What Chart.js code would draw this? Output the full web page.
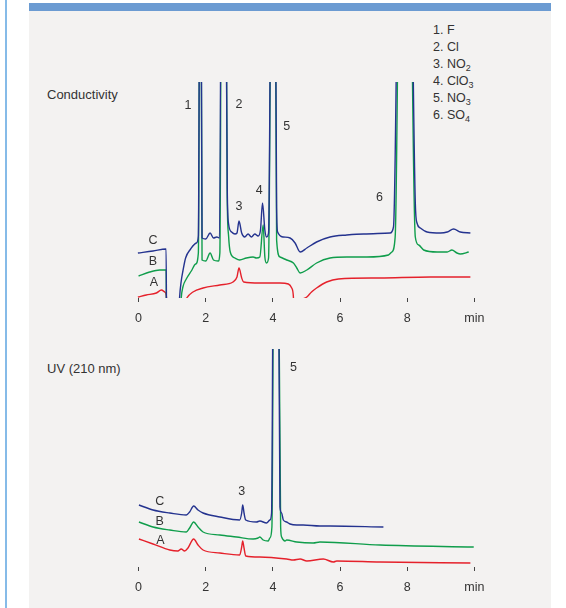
<!DOCTYPE html>
<html>
<head>
<meta charset="utf-8">
<script src="https://cdn.jsdelivr.net/npm/chart.js@4/dist/chart.umd.min.js"></script>
<style>
  html, body { margin: 0; padding: 0; background: #fff; }
  body { width: 566px; height: 608px; position: relative; overflow: hidden;
         font-family: "Liberation Sans", Arial, Helvetica, sans-serif; color: #333; }
  .edge { position: absolute; left: 5px; top: 0; width: 2px; height: 608px; background: #86bbe8; }
  .panel { position: absolute; left: 29px; top: 3px; width: 522px; height: 605px; background: #f3f2f1; }
  .bar { position: absolute; left: 29px; top: 3px; width: 522px; height: 8px; background: #6b9bd2; }
  .title { position: absolute; left: 47px; font-size: 13px; line-height: 16px; white-space: nowrap; }
  .legend { position: absolute; left: 433px; top: 22px; font-size: 12.5px; }
  .legend div { height: 17.1px; line-height: 17px; white-space: nowrap; }
  .legend sub { font-size: 0.72em; line-height: 0; vertical-align: -0.3em; }
  canvas { position: absolute; }
</style>
</head>
<body>
<div class="edge"></div>
<div class="panel"></div>
<div class="bar"></div>
<div class="title" style="top:87px">Conductivity</div>
<div class="title" style="top:361px">UV (210 nm)</div>
<div class="legend">
  <div>1. F</div>
  <div>2. Cl</div>
  <div>3. NO<sub>2</sub></div>
  <div>4. ClO<sub>3</sub></div>
  <div>5. NO<sub>3</sub></div>
  <div>6. SO<sub>4</sub></div>
</div>
<canvas id="cond" width="403" height="246" style="left:105px;top:82px"></canvas>
<canvas id="uv" width="403" height="248" style="left:105px;top:349px"></canvas>
<script>
// retention time (min) and detector signal (arb. units)
// values above the axis top are off-scale peaks, below zero are off-scale dips
const condC = [[-0.02,45],[0.43,47],[0.82,49],[0.84,-60],
  [1.19,-25],[1.22,0],[1.27,17],[1.32,27],[1.40,40],[1.55,49],[1.72,55],[1.78,62],
  [1.84,500],
  [1.89,60],[2.00,59],[2.13,65],[2.23,60],[2.33,61],[2.41,60],
  [2.51,800],
  [2.64,110],[2.68,74],[2.77,66],[2.87,64],[2.93,65],[2.99,77],[3.07,65],[3.16,61],[3.26,64],
  [3.36,61],[3.46,64],[3.56,62],[3.63,68],[3.69,95],[3.76,68],[3.81,61],[3.87,65],
  [4.01,700],
  [4.11,90],[4.14,66],[4.31,61],[4.51,60],[4.66,55],[4.81,46],[5.01,50],[5.30,56],[5.70,61],
  [6.20,63],[6.70,64],[7.49,65],[7.59,71],
  [7.91,900],
  [8.24,95],[8.29,75],[8.39,70],[8.59,66],[8.99,65],[9.19,66],[9.38,69],[9.58,66],[9.88,65]];

const condB = [[0.00,22],[0.33,26],[0.63,28],[0.82,28],[0.84,-60],
  [1.24,-20],[1.27,0],[1.32,11],[1.42,19],[1.57,27],[1.70,34],[1.78,45],
  [1.84,500],
  [1.89,38],[2.00,37],[2.13,45],[2.23,38],[2.37,37],[2.42,45],
  [2.51,800],
  [2.64,100],[2.68,62],[2.73,46],[2.87,40],[3.01,38],[3.21,40],[3.41,41],[3.51,40],[3.61,41],
  [3.71,73],[3.76,41],[3.81,35],[3.87,40],
  [4.01,700],
  [4.11,58],[4.21,41],[4.41,38],[4.61,35],[4.71,30],[4.81,25],[5.01,28],[5.30,35],[5.70,40],
  [6.20,41],[6.80,41],[7.44,43],[7.54,46],[7.64,61],
  [7.91,900],
  [8.24,61],[8.34,53],[8.49,48],[8.89,46],[9.19,46],[9.33,48],[9.48,45],[9.58,44],[9.83,46]];

const condA = [[-0.02,1],[0.23,3],[0.53,5],[0.68,8],[0.78,6],[0.83,1],[0.85,-40],
  [1.30,-13],[1.42,-1],[1.62,6],[1.92,10],[2.42,13],[2.81,16],[2.93,21],[2.99,30],[3.07,20],
  [3.13,16],[3.61,15],[4.21,15],[4.46,14],[4.56,10],[4.61,1],[4.64,-40],
  [4.80,-6],[5.01,1],[5.15,6],[5.30,10],[5.60,16],[5.95,19],[7.19,20],[8.69,21],[9.88,21]];

const uvC = [[0.01,62],[0.43,57],[0.93,54],[1.42,52],[1.52,55],[1.64,61],[1.77,57],[1.92,54],
  [2.42,50],[3.01,47],[3.07,54],[3.10,62],[3.14,54],[3.19,47],[3.51,45],[3.61,46],[3.81,44],
  [3.91,47],[3.96,54],
  [4.07,800],
  [4.21,60],[4.26,54],[4.31,47],[4.41,45],[4.51,43],[4.71,42],[4.90,42],[5.40,41],[5.70,41],[7.29,40]];

const uvB = [[0.01,45],[0.43,40],[0.93,37],[1.42,35],[1.52,39],[1.64,45],[1.77,40],[1.92,35],
  [2.42,32],[2.92,30],[3.41,28],[3.56,29],[3.61,30],[3.71,27],[3.86,26],[3.91,29],[3.97,40],
  [4.07,700],
  [4.23,40],[4.26,30],[4.36,26],[4.41,27],[4.71,25],[5.20,24],[5.40,25],[7.19,22],[9.98,20]];

const uvA = [[0.01,28],[0.43,23],[0.93,17],[1.17,16],[1.27,18],[1.37,16],[1.47,19],[1.64,28],
  [1.77,22],[1.92,17],[2.42,14],[3.01,12],[3.07,20],[3.10,26],[3.14,19],[3.19,11],[3.61,10],
  [4.41,8],[4.61,7],[4.81,8],[5.01,6],[5.50,8],[5.80,5],[5.90,6],[7.19,5],[9.88,4]];

const xTicks = [0, 2, 4, 6, 8, 10];
const tickNames = ['0', '2', '4', '6', '8', 'min'];

// peak / trace labels, placed in data units
const condNotes = [['1',1.47,192],['2',2.99,193],['5',4.41,171],['3',2.99,91],['4',3.59,107],
  ['6',7.17,100],['C',0.43,57],['B',0.43,36],['A',0.46,15]];
const uvNotes = [['5',4.61,199],['3',3.07,75],['C',0.63,65],['B',0.63,45],['A',0.65,26]];

const FONT = '"Liberation Sans", Arial, Helvetica, sans-serif';
const colors = { C: '#24338f', B: '#0f9d4b', A: '#e5212b' };

const notesPlugin = {
  id: 'notes',
  afterDatasetsDraw(chart, args, opts) {
    const { ctx, scales: { x, y } } = chart;
    ctx.save();
    ctx.font = '12.5px ' + FONT;
    ctx.fillStyle = '#333';
    ctx.textAlign = 'center';
    ctx.textBaseline = 'middle';
    opts.items.forEach(([txt, t, v]) => {
      ctx.fillText(txt, x.getPixelForValue(t), y.getPixelForValue(v));
    });
    ctx.restore();
  }
};

function pts(arr) {
  return arr.map(([t, v]) => ({ x: t, y: v }));
}

function makePanel(id, traces, yMax, notes) {
  const ctx = document.getElementById(id).getContext('2d');
  return new Chart(ctx, {
    type: 'line',
    data: {
      datasets: [
        { data: pts(traces[0]), borderColor: colors.C },
        { data: pts(traces[1]), borderColor: colors.B },
        { data: pts(traces[2]), borderColor: colors.A },
      ],
    },
    options: {
      responsive: false,
      animation: false,
      layout: { padding: 0 },
      elements: {
        point: { radius: 0 },
        line: { borderWidth: 1.4, cubicInterpolationMode: 'monotone', capBezierPoints: false, fill: false },
      },
      plugins: {
        legend: { display: false },
        tooltip: { enabled: false },
        notes: { items: notes },
      },
      scales: {
        x: {
          type: 'linear',
          min: -1,
          max: 11,
          border: { display: false },
          grid: { drawOnChartArea: false, drawTicks: true, tickLength: 4, tickColor: '#444' },
          ticks: {
            padding: 9,
            color: '#333',
            font: { family: FONT, size: 12.5 },
            callback: (v) => tickNames[xTicks.indexOf(v)],
          },
          afterBuildTicks: (s) => { s.ticks = xTicks.map((v) => ({ value: v })); },
          afterFit: (s) => { s.height = 30; },
        },
        y: { display: false, min: 0, max: yMax },
      },
    },
    plugins: [notesPlugin],
  });
}

makePanel('cond', [condC, condB, condA], 216, condNotes);
makePanel('uv', [uvC, uvB, uvA], 218, uvNotes);
</script>
</body>
</html>
